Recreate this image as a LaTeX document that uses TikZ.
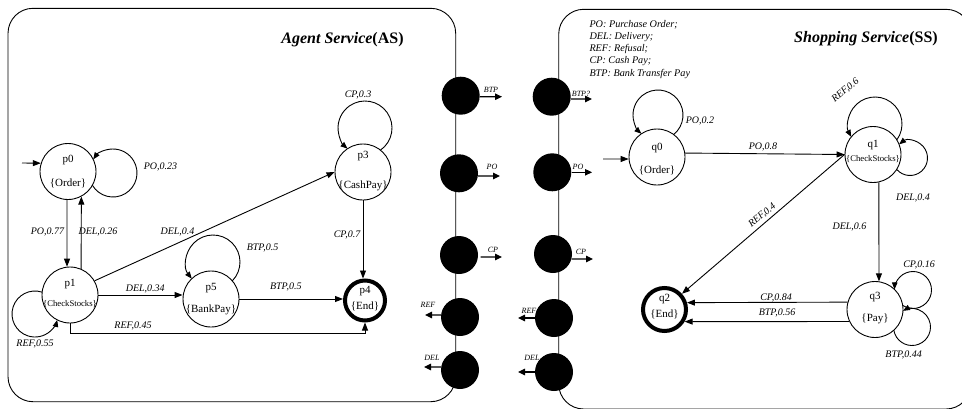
\documentclass[tikz,border=0pt]{standalone}
\usepackage{fontspec}
\setmainfont{Liberation Serif}
\usetikzlibrary{arrows.meta,calc}
\begin{document}
\begin{tikzpicture}[x=1pt,y=1pt,
  panel/.style={draw=black, line width=0.9pt, rounded corners=25pt},
  st/.style={circle, draw, line width=0.9pt, minimum size=56pt, inner sep=0pt, outer sep=0.45pt},
  endst/.style={circle, draw, line width=4pt, minimum size=#1, inner sep=0pt},
  port/.style={circle, fill=black, minimum size=38pt, inner sep=0pt},
  arr/.style={-{Triangle[length=8pt,width=6pt]}, line width=0.9pt},
  larr/.style={-{Triangle[length=7pt,width=5.5pt]}, line width=0.9pt},
  parr/.style={-{Triangle[length=7pt,width=6.5pt]}, line width=1.1pt},
  lab/.style={font=\fontsize{10}{12}\selectfont\itshape, inner sep=0pt, text height=6.6pt, text depth=0pt},
  plab/.style={font=\fontsize{8}{9}\selectfont\itshape, inner sep=0pt, text height=5.3pt, text depth=0pt},
  sname/.style={font=\fontsize{11}{13}\selectfont, inner sep=0pt, text height=7.3pt, text depth=0pt},
  ssmall/.style={font=\fontsize{8.7}{10}\selectfont, inner sep=0pt, text height=6pt, text depth=0pt},
  ttl/.style={font=\fontsize{16}{19}\selectfont, inner sep=0pt, anchor=base},
  leg/.style={font=\fontsize{10.2}{12}\selectfont\itshape, inner sep=0pt, text height=6.7pt, text depth=0pt, anchor=west}
]
\useasboundingbox (0,0) rectangle (962,-408);
\clip (0,0) rectangle (962,-408);

% panels
\draw[panel] (8,-8.3) rectangle (455.7,-401.7);
\draw[panel] (558.7,-9.3) rectangle (971,-409);

% titles and legend
\node[ttl] (tAS) at (342.5,-43) {\textbf{\textit{Agent Service}}\textbf{(AS)}};
\node[ttl] (tSS) at (866,-42) {\textbf{\textit{Shopping Service}}\textbf{(SS)}};
\node[leg] (lg1) at (589.3,-24.3) {PO: Purchase Order;};
\node[leg] (lg2) at (589.3,-36) {DEL: Delivery;};
\node[leg] (lg3) at (589.3,-47.7) {REF: Refusal;};
\node[leg] (lg4) at (589.3,-60) {CP: Cash Pay;};
\node[leg] (lg5) at (589.3,-72.7) {BTP: Bank Transfer Pay};

% ports
\node[port] (L1) at (460.7,-95.7) {};
\node[port] (L2) at (459,-173.3) {};
\node[port] (L3) at (459,-255) {};
\node[port] (L4) at (460,-317) {};
\node[port] (L5) at (460,-370) {};
\node[port] (R1) at (551.7,-96.7) {};
\node[port] (R2) at (552.3,-172.3) {};
\node[port] (R3) at (553,-254) {};
\node[port] (R4) at (554,-318) {};
\node[port] (R5) at (554,-372) {};

\coordinate (L1e) at (502,-96.7);
\coordinate (L2e) at (500,-176);
\coordinate (L3e) at (502,-257);
\coordinate (L4e) at (425,-315);
\coordinate (L5e) at (424,-367);
\coordinate (R1e) at (592,-99);
\coordinate (R2e) at (592,-172.3);
\coordinate (R3e) at (593,-259);
\coordinate (R4e) at (518,-318);
\coordinate (R5e) at (518,-372);

\draw[parr] (L1.-3) -- (L1e);
\draw[parr] (L2.-8) -- (L2e);
\draw[parr] ([xshift=2.5pt]L3.-6) -- (L3e);
\draw[parr] (L4.174) -- (L4e);
\draw[parr] (L5.171) -- (L5e);
\draw[parr] (R1.-7) -- (R1e);
\draw[parr] (R2.east) -- (R2e);
\draw[parr] (R3.-15) -- (R3e);
\draw[parr] (R4.west) -- (R4e);
\draw[parr] (R5.west) -- (R5e);

\node[plab] (pl1) at (491,-90) {BTP};
\node[plab] (pl2) at (581,-94) {BTP?};
\node[plab] (pl3) at (492,-167) {PO};
\node[plab] (pl4) at (578,-167) {PO};
\node[plab] (pl5) at (493,-250) {CP};
\node[plab] (pl6) at (581,-252) {CP};
\node[plab] (pl7) at (428,-305) {REF};
\node[plab] (pl8) at (529,-311) {REF};
\node[plab] (pl9) at (432,-358) {DEL};
\node[plab] (pl10) at (532,-358) {DEL};

% states of AS
\node[st] (p0) at (68,-171.5) {};
\node[sname] (p0a) at ($(p0)+(0,12.4)$) {p0};
\node[sname] (p0b) at ($(p0)+(0,-11)$) {\{Order\}};
\node[st] (p1) at (70,-295) {};
\node[sname] (p1a) at ($(p1)+(0,11.7)$) {p1};
\node[ssmall] (p1b) at ($(p1)+(0,-8.3)$) {\{CheckStocks\}};
\node[st] (p3) at (363,-172) {};
\node[sname] (p3a) at ($(p3)+(0,17.4)$) {p3};
\node[sname] (p3b) at ($(p3)+(0,-13.3)$) {\{CashPay\}};
\node[st] (p5) at (211,-299) {};
\node[sname] (p5a) at ($(p5)+(0,11.7)$) {p5};
\node[sname] (p5b) at ($(p5)+(0,-10)$) {\{BankPay\}};
\node[endst=40pt] (p4) at (365,-300.5) {};
\node[sname] (p4a) at ($(p4)+(0,10.5)$) {p4};
\node[sname] (p4b) at ($(p4)+(0,-5.5)$) {\{End\}};

% states of SS
\node[st] (q0) at (657,-157) {};
\node[sname] (q0a) at ($(q0)+(0,10.3)$) {q0};
\node[sname] (q0b) at ($(q0)+(0,-13)$) {\{Order\}};
\node[st] (q1) at (873,-154.5) {};
\node[sname] (q1a) at ($(q1)+(0,11)$) {q1};
\node[ssmall] (q1b) at ($(q1)+(0,-4)$) {\{CheckStocks\}};
\node[st] (q3) at (875,-309.5) {};
\node[sname] (q3a) at ($(q3)+(0,14)$) {q3};
\node[sname] (q3b) at ($(q3)+(0,-8)$) {\{Pay\}};
\node[endst=43pt] (q2) at (664.5,-309.5) {};
\node[sname] (q2a) at ($(q2)+(0,11.4)$) {q2};
\node[sname] (q2b) at ($(q2)+(0,-4.3)$) {\{End\}};

% initial arrows
\coordinate (p0in) at (22,-163);
\coordinate (q0in) at (603,-159);
\draw[arr] (p0in) -- (p0.163);
\draw[arr] (q0in) -- (q0.184);

% AS transitions
\draw[arr] (p0.268) -- (p1.96);
\draw[arr] (p1.67) -- (p0.-62);
\draw[arr] (p1.30) -- (p3.west);
\draw[arr] (p1.east) -- (p1.east -| p5.west);
\draw[arr] (p5.east) -- (p5.east -| p4.west);
\draw[arr] (p3.south) -- (p3.south |- p4.north);
\draw[arr] (p1.south) -- ++(0,-10) -| (p4.south);
% AS loops
\draw[larr] ($(p0.center)+(45,-1.5)$) ++(-149.3:24) arc[start angle=-149.3, end angle=145.5, radius=24];
\draw[larr] ($(p3.center)+(2,44)$) ++(-55:27) arc[start angle=-55, end angle=229.8, radius=27];
\draw[larr] ($(p5.center)+(2,37)$) ++(-44.3:27) arc[start angle=-44.3, end angle=218.1, radius=27];
\draw[larr] ($(p1.center)+(-35,-19)$) ++(71.9:23) arc[start angle=71.9, end angle=345.1, radius=23];

% SS transitions
\draw[arr] (q0.8) -- (q1.west);
\draw[arr] (q1.west) -- (q2.42);
\draw[arr] (q1.-78) -- (q3.82);
\draw[arr] (q3.165) -- (q2.17);
\draw[arr] (q3.205) -- (q2.-31);
% SS loops
\draw[larr] ($(q0.center)+(1,42)$) ++(-51.3:25) arc[start angle=-51.3, end angle=228.5, radius=25];
\draw[larr] ($(q1.center)+(2,30.5)$) ++(-36:27) arc[start angle=-36, end angle=208.4, radius=27];
\draw[larr] ($(q1.center)+(37,-3.5)$) ++(-139.4:17.5) arc[start angle=-139.4, end angle=128.6, radius=17.5];
\draw[larr] ($(q3.center)+(38,19.5)$) ++(-123.8:18.5) arc[start angle=-123.8, end angle=178.2, radius=18.5];
\draw[larr] ($(q3.center)+(37,-17.5)$) ++(-169.8:18.5) arc[start angle=-169.8, end angle=119.2, radius=18.5];

% AS labels
\node[lab] (lPO23) at (160.5,-166) {PO,0.23};
\node[lab] (lCP3) at (358,-94) {CP,0.3};
\node[lab] (lPO77) at (47.5,-230.7) {PO,0.77};
\node[lab] (lDEL26) at (98,-230.7) {DEL,0.26};
\node[lab] (lDEL4) at (177.5,-230.7) {DEL,0.4};
\node[lab] (lCP7) at (347,-234) {CP,0.7};
\node[lab] (lBTP5a) at (262.5,-246.7) {BTP,0.5};
\node[lab] (lDEL34) at (145.3,-288) {DEL,0.34};
\node[lab] (lBTP5b) at (285.8,-286) {BTP,0.5};
\node[lab] (lREF45) at (133,-325) {REF,0.45};
\node[lab] (lREF55) at (35,-342.7) {REF,0.55};

% SS labels
\node[lab] (rPO2) at (700,-120) {PO,0.2};
\node[lab, rotate=40] (rREF6) at (845,-90) {REF,0.6};
\node[lab] (rPO8) at (763,-145.7) {PO,0.8};
\node[lab] (rDEL4) at (913,-196.7) {DEL,0.4};
\node[lab] (rDEL6) at (849.5,-225.7) {DEL,0.6};
\node[lab, rotate=40] (rREF4) at (761.7,-215) {REF,0.4};
\node[lab] (rCP16) at (919,-264.3) {CP,0.16};
\node[lab] (rCP84) at (776,-296.7) {CP,0.84};
\node[lab] (rBTP56) at (777,-312.3) {BTP,0.56};
\node[lab] (rBTP44) at (903.7,-354) {BTP,0.44};
\end{tikzpicture}
\end{document}
